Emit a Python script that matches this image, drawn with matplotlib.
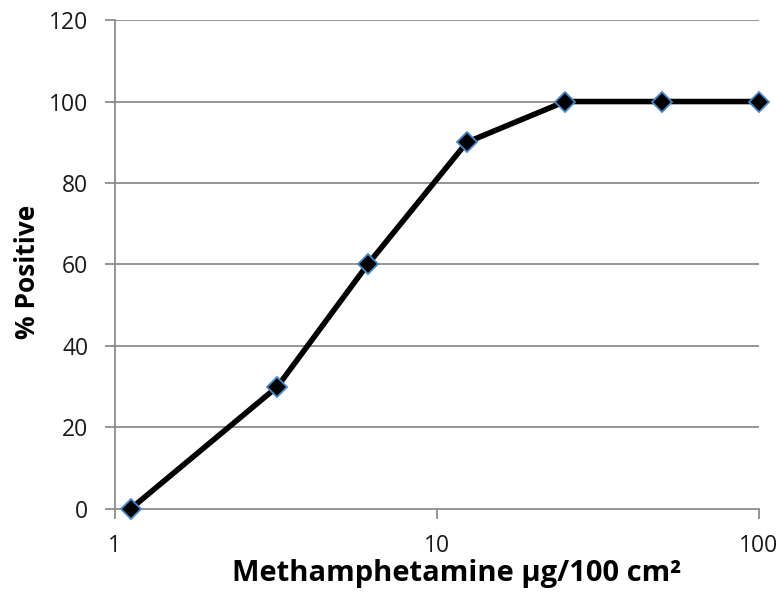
import matplotlib.pyplot as plt
from matplotlib.ticker import FixedLocator, FixedFormatter, NullLocator

# dose (ug/100 cm2) vs percent positive
dose = [1.12, 3.2, 6.1, 12.4, 25, 50, 100]
pct_positive = [0, 30, 60, 90, 100, 100, 100]

x_ticks = [1, 10, 100]
x_labels = ['1', '10', '100']
y_ticks = [0, 20, 40, 60, 80, 100, 120]

plt.rcParams['font.family'] = ['Open Sans', 'DejaVu Sans']

fig = plt.figure(figsize=(7.8, 6.08), dpi=100)
ax = fig.add_axes([0.147, 0.163, 0.826, 0.804])

grid_col = '#8c8c8c'
ax.set_xscale('log')
ax.set_xlim(1, 100)
ax.set_ylim(0, 120)

for y in y_ticks[1:]:
    ax.axhline(y, color=grid_col, lw=1.3, zorder=1)

ax.plot(dose, pct_positive, color='black', lw=4, marker='D', ms=10,
        mfc='black', mec='#4a86c8', mew=1.3, zorder=3, clip_on=False)

for s in ['top', 'right']:
    ax.spines[s].set_visible(False)
for s in ['left', 'bottom']:
    ax.spines[s].set_color(grid_col)
    ax.spines[s].set_linewidth(1.3)

ax.xaxis.set_major_locator(FixedLocator(x_ticks))
ax.xaxis.set_major_formatter(FixedFormatter(x_labels))
ax.xaxis.set_minor_locator(NullLocator())
ax.set_yticks(y_ticks)

ax.tick_params(axis='both', direction='out', length=7, width=1.3,
               color=grid_col, labelsize=16.5, labelcolor='#1a1a1a')
ax.tick_params(axis='x', pad=11)
ax.tick_params(axis='y', pad=12)

ax.set_xlabel('Methamphetamine µg/100 cm²', fontsize=21, fontweight='bold')
ax.set_ylabel('% Positive', fontsize=19, fontweight='bold')
ax.xaxis.set_label_coords(0.531, -0.103)
ax.yaxis.set_label_coords(-0.115, 0.485)

fig.savefig('out.png', dpi=100)
